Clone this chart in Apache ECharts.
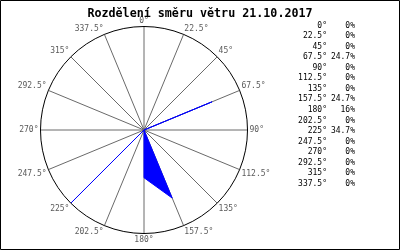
<!DOCTYPE html>
<html><head><meta charset="utf-8">
<script src="https://cdn.jsdelivr.net/npm/echarts@6/dist/echarts.min.js"></script>
<style>html,body{margin:0;padding:0;background:#fff}#c{width:400px;height:250px}</style>
</head><body><div id="c"></div>
<script>
const titleText = 'Rozdělení směru větru 21.10.2017';
const angles = [0,22.5,45,67.5,90,112.5,135,157.5,180,202.5,225,247.5,270,292.5,315,337.5];
const directions = ['0°','22.5°','45°','67.5°','90°','112.5°','135°','157.5°','180°','202.5°','225°','247.5°','270°','292.5°','315°','337.5°'];
const shares = [0,0,0,24.7,0,0,0,24.7,16,0,34.7,0,0,0,0,0];

const chart = echarts.init(document.getElementById('c'), null, {renderer:'canvas'});
const font = 'DejaVu Sans Mono';
const graphics = [
  {type:'rect', shape:{x:0.5,y:0.5,width:399,height:249}, style:{fill:'none',stroke:'#000',lineWidth:1}, silent:true}
];
directions.forEach((d,i)=>{
  const y = 25.5 + i*10.56;
  graphics.push({type:'text', x:327, y:y, style:{text:d, align:'right', verticalAlign:'middle', font:'8px '+font, fill:'#000'}});
  graphics.push({type:'text', x:355, y:y, style:{text:shares[i]+'%', align:'right', verticalAlign:'middle', font:'8px '+font, fill:'#000'}});
});
chart.setOption({
  animation:false,
  backgroundColor:'#fff',
  title:{text:titleText, left:'center', top:3, textStyle:{fontFamily:font, fontSize:11.7, fontWeight:'bold', color:'#000'}},
  polar:{center:[144,130], radius:103.5},
  angleAxis:{
    type:'value', min:0, max:360, interval:22.5, startAngle:90, clockwise:true,
    axisLine:{show:true, lineStyle:{color:'#000', width:1}},
    axisTick:{show:false},
    axisLabel:{margin:2, color:'#5a5a5a', fontFamily:font, fontSize:8,
      formatter:(v)=>{const i=angles.indexOf(v); return i>=0?directions[i]:'';}},
    splitLine:{show:true, lineStyle:{color:'#6a6a6a', width:1}}
  },
  radiusAxis:{min:0, max:34.7, axisLine:{show:false}, axisTick:{show:false}, axisLabel:{show:false}, splitLine:{show:false}},
  series:[{
    type:'line', coordinateSystem:'polar', data:shares.map((r,i)=>[r, angles[i]]), symbol:'none',
    lineStyle:{color:'#0000ff', width:1}, areaStyle:{color:'#0000ff', opacity:1}
  }],
  graphic:graphics
});
</script></body></html>
